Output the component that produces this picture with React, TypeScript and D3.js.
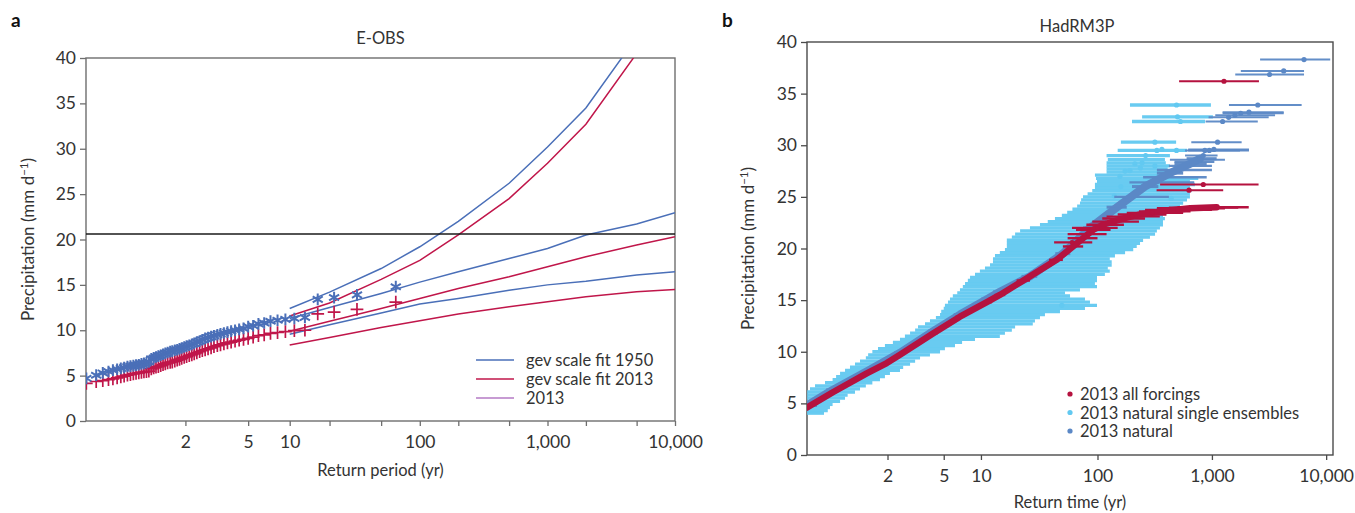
import React, { useEffect, useRef } from "react";
import * as d3 from "d3";

// ---------- panel a: E-OBS ----------
// ranked annual maxima (largest first), plotting return periods
const obsPeriod = [
  65, 32.5, 21.67, 16.25, 13, 10.83, 9.29, 8.13, 7.22, 6.5, 5.91, 5.42, 5, 4.64, 4.33, 4.06,
  3.82, 3.61, 3.42, 3.25, 3.1, 2.95, 2.83, 2.71, 2.6, 2.5, 2.41, 2.32, 2.24, 2.17, 2.1, 2.03,
  1.97, 1.91, 1.86, 1.81, 1.76, 1.71, 1.67, 1.625, 1.585, 1.548, 1.512, 1.477, 1.444, 1.413,
  1.383, 1.354, 1.327, 1.3, 1.275, 1.25, 1.226, 1.204, 1.182, 1.161, 1.14, 1.121, 1.102, 1.083,
  1.066, 1.048, 1.032, 1.016,
];
const obs1950 = [
  14.8, 13.9, 13.6, 13.4, 11.4, 11.3, 11.2, 11.1, 11.0, 10.8, 10.7, 10.5, 10.4, 10.2, 10.1, 10.0,
  9.9, 9.8, 9.7, 9.6, 9.5, 9.4, 9.3, 9.2, 9.1, 8.95, 8.8, 8.7, 8.55, 8.45, 8.35, 8.25,
  8.15, 8.05, 7.95, 7.85, 7.8, 7.7, 7.65, 7.55, 7.45, 7.35, 7.25, 7.15, 7.05, 6.95,
  6.85, 6.5, 6.4, 6.35, 6.3, 6.2, 6.15, 6.1, 6.05, 6.0, 5.9, 5.8, 5.7, 5.6,
  5.45, 5.3, 5.05, 4.7,
];
const obs2013 = [
  13.1, 12.3, 12.0, 11.8, 10.0, 9.95, 9.85, 9.75, 9.65, 9.5, 9.4, 9.25, 9.1, 9.0, 8.9, 8.8,
  8.7, 8.6, 8.5, 8.4, 8.3, 8.2, 8.05, 7.95, 7.85, 7.75, 7.65, 7.5, 7.4, 7.3, 7.2, 7.1,
  7.0, 6.9, 6.8, 6.7, 6.6, 6.5, 6.45, 6.4, 6.3, 6.2, 6.1, 6.0, 5.95, 5.85,
  5.75, 5.5, 5.45, 5.4, 5.35, 5.3, 5.25, 5.2, 5.1, 5.05, 4.95, 4.85, 4.75, 4.65,
  4.55, 4.45, 4.35, 4.15,
];

const fitPeriod = [10, 20, 50, 100, 200, 500, 1000, 2000, 5000, 10000];
const fit1950Upper = [12.4, 14.2, 16.8, 19.2, 22.0, 26.2, 30.2, 34.5, 42.3, 48];
const fit1950Mid = [11.3, 12.5, 14.05, 15.3, 16.45, 17.9, 19.0, 20.5, 21.7, 22.95];
const fit1950Lower = [9.55, 10.6, 11.9, 12.9, 13.5, 14.4, 15.0, 15.4, 16.1, 16.45];
const fit2013Upper = [11.57, 13.0, 15.6, 17.7, 20.5, 24.5, 28.4, 32.7, 40.5, 46];
const fit2013Mid = [9.9, 11.0, 12.4, 13.5, 14.6, 15.9, 17.0, 18.1, 19.4, 20.3];
const fit2013Lower = [8.37, 9.2, 10.3, 11.05, 11.8, 12.6, 13.15, 13.7, 14.25, 14.5];
const event2013 = 20.6;

const legendA = ["gev scale fit 1950", "gev scale fit 2013", "2013"];

// ---------- panel b: HadRM3P ----------
// [return time, precip, lower return time, upper return time]
const allForcings = [
  [1.031, 4.6, 1.031, 1.04], [1.145, 6.1, 1.12, 1.17], [1.535, 7.9, 1.48, 1.6],
  [1.98, 8.9, 1.9, 2.07], [2.4, 9.7, 2.3, 2.52], [4.16, 11.8, 3.9, 4.5],
  [6.73, 13.4, 6.2, 7.3], [11.2, 14.8, 10.2, 12.4], [14.4, 15.5, 13, 16],
  [22.8, 16.9, 20, 26], [44.2, 18.9, 38, 50], [61.2, 20.2, 50, 75],
  [74.8, 21.0, 55, 100], [91.4, 21.8, 65, 130], [111.6, 22.3, 80, 170],
  [166, 22.9, 110, 260], [235, 23.3, 150, 400], [373, 23.6, 230, 650],
  [645, 23.9, 330, 1300], [1100, 24.0, 500, 2100],
];
const allForcingsBars = [
  [100, 22.0, 60, 150], [140, 22.6, 90, 230], [200, 23.1, 120, 350],
  [300, 23.45, 180, 560], [500, 23.75, 260, 1000], [800, 23.95, 420, 1700],
  [60, 20.6, 42, 90], [84, 21.4, 55, 120],
];
const allForcingsTop = [
  [630, 25.65, 328, 1255], [840, 26.2, 352, 2560], [1275, 36.2, 516, 2580],
];

// natural single ensembles: [precip, lower return time, upper return time]
const singleBars = [
  [4.05, 1.031, 1.09], [4.3, 1.031, 1.11], [4.6, 1.031, 1.123], [4.9, 1.031, 1.14],
  [5.2, 1.031, 1.197], [5.5, 1.031, 1.243], [5.8, 1.031, 1.27], [6.1, 1.031, 1.357],
  [6.4, 1.038, 1.427], [6.7, 1.053, 1.52], [7.0, 1.095, 1.64], [7.3, 1.14, 1.806],
  [7.6, 1.165, 1.93], [7.9, 1.197, 2.07], [8.2, 1.243, 2.4], [8.5, 1.296, 2.52],
  [8.8, 1.357, 2.81], [9.1, 1.427, 3.05], [9.4, 1.52, 3.31], [9.7, 1.56, 3.92],
  [10.0, 1.64, 4.68], [10.3, 1.76, 5.11], [10.6, 1.93, 6.14], [10.9, 2.16, 7.0],
  [11.2, 2.4, 8.93], [11.5, 2.59, 14.4], [11.8, 2.81, 15.9], [12.1, 3.05, 18.2],
  [12.4, 3.2, 19.4], [12.7, 3.6, 27.5], [13.0, 3.92, 28.7], [13.3, 4.35, 31.7],
  [13.6, 4.68, 35], [13.9, 4.78, 47.2], [14.2, 5.0, 77.8], [14.5, 5.11, 99],
  [14.8, 5.4, 86], [15.1, 5.6, 77.8], [15.4, 5.9, 57.7], [15.7, 6.4, 52.2],
  [16.0, 6.73, 70.4], [16.3, 7.1, 99], [16.6, 7.4, 95], [16.9, 7.8, 99],
  [17.2, 8.13, 99], [17.5, 8.93, 116], [17.8, 9.8, 128], [18.1, 10.8, 123],
  [18.4, 11.9, 133], [18.7, 12.6, 133], [19.0, 12.6, 128], [19.3, 13.1, 142],
  [19.6, 14.4, 174], [19.9, 15.9, 205], [20.2, 16.5, 220], [20.5, 16.5, 235],
  [20.8, 16.5, 250], [21.1, 18.2, 287], [21.4, 19.4, 318], [21.7, 21.4, 330],
  [22.0, 26, 351], [22.3, 31.7, 373], [22.6, 37, 373], [22.9, 42.7, 388],
  [23.2, 49, 373], [23.5, 54.5, 388], [23.8, 60.5, 476], [24.1, 66.5, 526],
  [24.4, 70.4, 560], [24.7, 72, 605], [25.0, 74.8, 642], [25.3, 82, 642],
  [25.6, 90, 665], [25.9, 95, 642], [26.2, 95, 710], [26.5, 99, 642],
  [26.8, 97, 760], [27.1, 95, 395], [27.4, 120, 390], [27.7, 120, 410],
  [28.0, 120, 429], [28.3, 120, 395], [28.6, 123, 388], [29.0, 120, 429],
  [29.5, 150, 605], [30.3, 160, 486], [32.3, 200, 870], [32.75, 245, 1020],
  [33.9, 192, 980],
];
const singleDots = [
  [490, 33.9], [500, 32.75], [530, 32.3], [317, 30.3], [330, 29.5], [365, 29.6],
  [490, 29.5], [263, 29.0], [212, 28.2], [245, 28.3], [317, 28.0], [237, 27.8],
  [192, 27.55], [157, 27.0], [174, 27.5], [160, 26.0], [440, 24.85], [140, 25.1],
  [49, 14.5],
];

// natural (ensemble mean): [return time, precip, lower, upper]
const natural = [
  [1.031, 4.8, 1.031, 1.06], [1.14, 6.3, 1.1, 1.19], [1.54, 8.1, 1.45, 1.65],
  [2.4, 9.9, 2.2, 2.6], [4.15, 12.0, 3.8, 4.6], [6.73, 13.6, 6.0, 7.5],
  [11.2, 15.1, 10, 12.5], [14.4, 15.8, 12.6, 16.5], [26, 17.3, 22, 30],
  [50, 19.5, 43, 58], [86, 22.0, 75, 100], [148, 24.0, 120, 180],
  [260, 26.0, 200, 340], [429, 27.3, 330, 560], [642, 28.2, 470, 900],
  [786, 28.7, 600, 1100],
];
const naturalBarsExtra = [
  [390, 26.9, 250, 900], [520, 27.6, 330, 1000], [600, 28.0, 420, 1000], [700, 28.4, 470, 1050],
  [200, 25.0, 140, 420], [300, 26.4, 190, 700],
];
const naturalTop = [
  [6400, 38.3, 2640, 10850], [4250, 37.2, 1790, 6400], [3200, 36.85, 1600, 6400],
  [2520, 33.9, 1410, 6100], [2110, 33.2, 1240, 4250], [1785, 33.1, 1240, 4250],
  [1590, 32.9, 1070, 3570], [1400, 32.7, 935, 3140], [1240, 32.3, 880, 2520],
  [1120, 30.3, 660, 1820], [1040, 29.6, 620, 2110], [948, 29.5, 620, 2110],
  [868, 29.5, 582, 1760], [840, 29.0, 582, 1120], [786, 28.6, 429, 1300],
];

const legendB = ["2013 all forcings", "2013 natural single ensembles", "2013 natural"];

const yTicks = [0, 5, 10, 15, 20, 25, 30, 35, 40];
const xTicksA = [2, 5, 10, 20, 50, 100, 200, 500, 1000, 2000, 5000, 10000];
const xTicksB = [2, 5, 10, 100, 1000, 10000];
const labelled = [2, 5, 10, 100, 1000, 10000];

const BLUE = "#4a6fb8";
const RED = "#c0164a";
const PURPLE = "#b57ac4";
const B_RED = "#b5123f";
const B_LIGHT = "#62c9f1";
const B_DARK = "#5b88c6";
const TEXT = "#333";
const FONT = "Lato, 'Open Sans', sans-serif";

// Gumbel reduced variate for a return period
const gumbel = (t: number) => -Math.log(-Math.log(1 - 1 / t));

function returnScale(domain: number[], range: number[]) {
  const lin = d3.scaleLinear().domain(domain.map(gumbel)).range(range);
  const s: any = (t: number) => lin(gumbel(t));
  s.domain = () => domain;
  s.range = () => lin.range();
  s.copy = () => returnScale(domain, range);
  return s;
}

function frame(g: any, x: any, y: any, box: any, xTicks: number[], axisColor: string, id: string) {
  const fmt = d3.format(",");
  g.append("rect")
    .attr("x", box.left).attr("y", box.top)
    .attr("width", box.right - box.left).attr("height", box.bottom - box.top)
    .attr("fill", "none").attr("stroke", axisColor).attr("stroke-width", 1.4);

  const ya = g.append("g").attr("transform", `translate(${box.left},0)`)
    .call(d3.axisLeft(y).tickValues(yTicks).tickSize(6).tickSizeOuter(0).tickPadding(4));
  const xa = g.append("g").attr("transform", `translate(0,${box.bottom})`)
    .call(d3.axisBottom(x).tickValues(xTicks).tickSize(5).tickSizeOuter(0).tickPadding(10)
      .tickFormat((d: any) => (labelled.includes(d) ? fmt(d) : "")));
  [ya, xa].forEach((a) => {
    a.select(".domain").remove();
    a.selectAll(".tick line").attr("stroke", axisColor).attr("stroke-width", 1.3);
    a.selectAll("text").attr("fill", TEXT).style("font-size", "17.5px").style("font-family", FONT);
  });

  g.append("clipPath").attr("id", id).append("rect")
    .attr("x", box.left).attr("y", box.top)
    .attr("width", box.right - box.left).attr("height", box.bottom - box.top);
}

function precipTitle(g: any, x: number, y: number) {
  const t = g.append("text")
    .attr("transform", `translate(${x},${y}) rotate(-90)`)
    .attr("text-anchor", "middle").attr("fill", TEXT)
    .style("font-size", "17px").style("font-family", FONT);
  t.append("tspan").text("Precipitation (mm d");
  t.append("tspan").attr("dy", -6).style("font-size", "11.5px").text("\u22121");
  t.append("tspan").attr("dy", 6).text(")");
}

function drawPanelA(svg: any) {
  const box = { left: 86, right: 675, top: 58, bottom: 421 };
  const x = returnScale([1.0156, 10000], [box.left, box.right]);
  const y = d3.scaleLinear().domain([0, 40]).range([box.bottom, box.top]);
  const g = svg.append("g");
  frame(g, x, y, box, xTicksA, "#6e6e6e", "clipA");

  const plot = g.append("g").attr("clip-path", "url(#clipA)");
  const line = d3.line<number>().x((_, i) => x(fitPeriod[i])).y((d) => y(d));
  const fits: [number[], string][] = [
    [fit1950Upper, BLUE], [fit1950Mid, BLUE], [fit1950Lower, BLUE],
    [fit2013Upper, RED], [fit2013Mid, RED], [fit2013Lower, RED],
  ];
  fits.forEach(([vals, c]) => {
    plot.append("path").attr("d", line(vals)).attr("fill", "none")
      .attr("stroke", c).attr("stroke-width", 1.5);
  });

  const star = d3.symbol().type(d3.symbolAsterisk).size(95)();
  const plus = d3.symbol().type(d3.symbolPlus).size(55)();
  plot.selectAll(".p13").data(obs2013).join("path")
    .attr("transform", (d: number, i: number) => `translate(${x(obsPeriod[i])},${y(d)})`)
    .attr("d", plus).attr("fill", "none").attr("stroke", RED).attr("stroke-width", 1.7);
  plot.selectAll(".p50").data(obs1950).join("path")
    .attr("transform", (d: number, i: number) => `translate(${x(obsPeriod[i])},${y(d)})`)
    .attr("d", star).attr("fill", "none").attr("stroke", BLUE).attr("stroke-width", 2);

  plot.append("line")
    .attr("x1", box.left).attr("x2", box.right)
    .attr("y1", y(event2013)).attr("y2", y(event2013))
    .attr("stroke", "#1a1a1a").attr("stroke-width", 1.4);

  const lg = g.append("g");
  [BLUE, RED, PURPLE].forEach((c, i) => {
    const ly = 360 + i * 19;
    lg.append("line").attr("x1", 476).attr("x2", 514).attr("y1", ly).attr("y2", ly)
      .attr("stroke", c).attr("stroke-width", 1.5);
    lg.append("text").attr("x", 526).attr("y", ly + 6).text(legendA[i])
      .attr("fill", TEXT).style("font-size", "16.5px").style("font-family", FONT);
  });

  g.append("text").attr("x", (box.left + box.right) / 2).attr("y", 44)
    .attr("text-anchor", "middle").attr("fill", TEXT)
    .style("font-size", "16.5px").style("font-family", FONT).text("E-OBS");
  g.append("text").attr("x", (box.left + box.right) / 2).attr("y", 476)
    .attr("text-anchor", "middle").attr("fill", TEXT)
    .style("font-size", "16.5px").style("font-family", FONT).text("Return period (yr)");
  precipTitle(g, 34, (box.top + box.bottom) / 2);
  g.append("text").attr("x", 11).attr("y", 27).attr("fill", "#111")
    .style("font-size", "19px").style("font-weight", "bold").style("font-family", FONT).text("a");
}

function drawPanelB(svg: any) {
  const box = { left: 807, right: 1333, top: 42, bottom: 455 };
  const x = returnScale([1.0307, 11480], [box.left, box.right]);
  const y = d3.scaleLinear().domain([0, 40]).range([box.bottom, box.top]);
  const g = svg.append("g");
  frame(g, x, y, box, xTicksB, "#4a4a4a", "clipB");

  const plot = g.append("g").attr("clip-path", "url(#clipB)");

  const bars = (data: number[][], p: number, lo: number, hi: number, c: string, w: number, o: number) => {
    plot.append("g").selectAll("line").data(data).join("line")
      .attr("x1", (d: number[]) => x(d[lo])).attr("x2", (d: number[]) => x(d[hi]))
      .attr("y1", (d: number[]) => y(d[p])).attr("y2", (d: number[]) => y(d[p]))
      .attr("stroke", c).attr("stroke-width", w).attr("opacity", o);
  };
  const dots = (data: number[][], t: number, p: number, c: string, r: number) => {
    plot.append("g").selectAll("circle").data(data).join("circle")
      .attr("cx", (d: number[]) => x(d[t])).attr("cy", (d: number[]) => y(d[p]))
      .attr("r", r).attr("fill", c);
  };
  const curve = (data: number[][], c: string, w: number) => {
    const ln = d3.line<number[]>().x((d) => x(d[0])).y((d) => y(d[1]));
    plot.append("path").attr("d", ln(data)).attr("fill", "none").attr("stroke", c)
      .attr("stroke-width", w).attr("stroke-linecap", "round").attr("stroke-linejoin", "round");
  };

  // natural single ensembles
  bars(singleBars, 0, 1, 2, B_LIGHT, 3.3, 0.95);
  dots(singleDots, 0, 1, B_LIGHT, 2.6);

  // natural
  bars(naturalBarsExtra, 1, 2, 3, B_DARK, 2.4, 0.95);
  bars(natural, 1, 2, 3, B_DARK, 3, 0.95);
  curve(natural, B_DARK, 8);
  bars(naturalTop, 1, 2, 3, B_DARK, 2, 0.95);
  dots(naturalTop, 0, 1, B_DARK, 2.6);

  // all forcings
  bars(allForcings, 1, 2, 3, B_RED, 2.4, 1);
  bars(allForcingsBars, 1, 2, 3, B_RED, 2.2, 1);
  curve(allForcings, B_RED, 6.5);
  dots(allForcingsBars, 0, 1, B_RED, 2.4);
  bars(allForcingsTop, 1, 2, 3, B_RED, 2, 1);
  dots(allForcingsTop, 0, 1, B_RED, 2.6);

  const lg = g.append("g");
  [B_RED, B_LIGHT, B_DARK].forEach((c, i) => {
    const ly = 394 + i * 18.5;
    lg.append("circle").attr("cx", 1070).attr("cy", ly).attr("r", 2.6).attr("fill", c);
    lg.append("text").attr("x", 1080).attr("y", ly + 6).text(legendB[i])
      .attr("fill", TEXT).style("font-size", "16.5px").style("font-family", FONT);
  });

  g.append("text").attr("x", 1077).attr("y", 32)
    .attr("text-anchor", "middle").attr("fill", TEXT)
    .style("font-size", "16.5px").style("font-family", FONT).text("HadRM3P");
  g.append("text").attr("x", (box.left + box.right) / 2).attr("y", 508)
    .attr("text-anchor", "middle").attr("fill", TEXT)
    .style("font-size", "16.5px").style("font-family", FONT).text("Return time (yr)");
  precipTitle(g, 754, (box.top + box.bottom) / 2);
  g.append("text").attr("x", 722).attr("y", 27).attr("fill", "#111")
    .style("font-size", "19px").style("font-weight", "bold").style("font-family", FONT).text("b");
}

export default function App() {
  const ref = useRef<SVGSVGElement | null>(null);

  useEffect(() => {
    document.body.style.margin = "0";
    const svg = d3.select(ref.current);
    svg.selectAll("*").remove();
    drawPanelA(svg);
    drawPanelB(svg);
  }, []);

  return (
    <svg
      ref={ref}
      width={1355}
      height={513}
      style={{ display: "block", background: "#fff", fontFamily: FONT }}
    />
  );
}
